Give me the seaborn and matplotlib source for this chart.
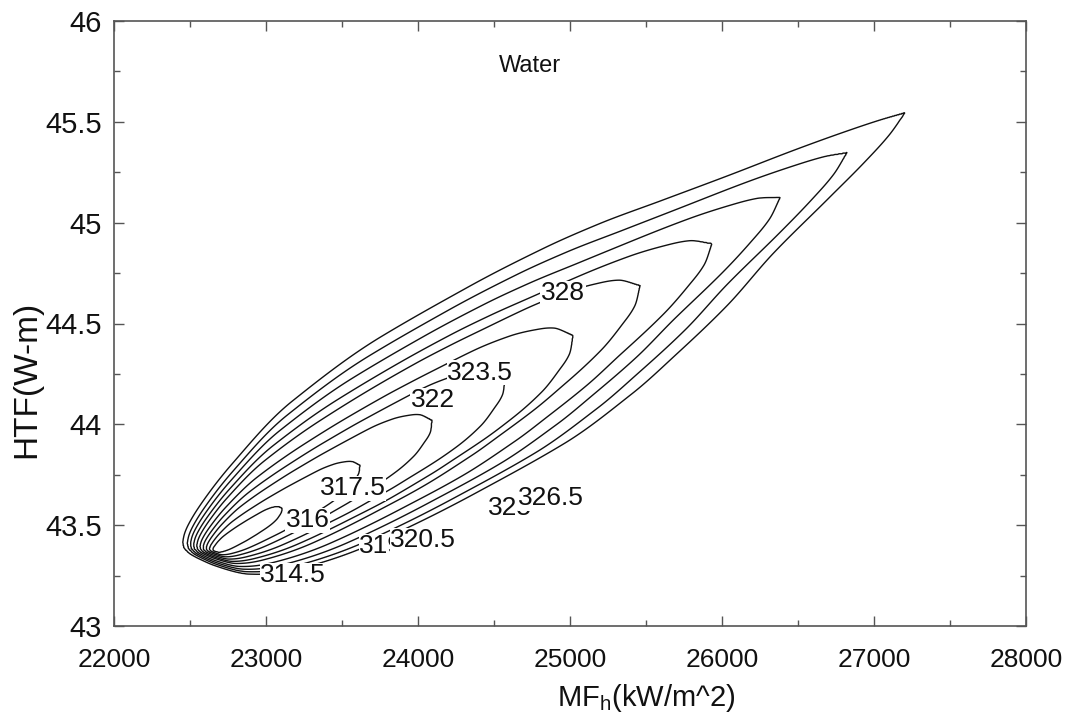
import numpy as np
import matplotlib
matplotlib.use("Agg")
import matplotlib.pyplot as plt
import seaborn as sns

# ---------------- data ----------------
# contour levels, innermost hairpin -> outermost hairpin
levels = [314.5, 316.0, 317.5, 319.0, 320.5, 322.0, 323.5, 325.0, 326.5, 328.0]
# tip (upper-right end) of each hairpin contour
tip_mf = [23105, 23618, 24092, 24572, 25020, 25461, 25934, 26382, 26822, 27204]
tip_htf = [43.584, 43.797, 44.020, 44.228, 44.441, 44.688, 44.896, 45.124, 45.347, 45.545]
# apex (lower-left convergence point) of each hairpin contour
apex_mf = [22651, 22630, 22610, 22590, 22570, 22550, 22530, 22510, 22490, 22461]
apex_htf = [43.376, 43.377, 43.378, 43.379, 43.380, 43.381, 43.382, 43.383, 43.384, 43.386]
# hairpin cross-section profile (half width / length along the hairpin axis)
prof_t = [0.0, 0.002, 0.005, 0.01, 0.02, 0.05, 0.1, 0.2, 0.33, 0.45, 0.55, 0.62, 0.7, 0.78, 0.87, 0.93, 0.97, 1.0]
upper_blunt = [0.0, 0.006, 0.010, 0.015, 0.022, 0.037, 0.056, 0.080, 0.092, 0.097, 0.098, 0.097, 0.095, 0.092, 0.080, 0.062, 0.042, 0.0]
lower_blunt = [0.0, 0.008, 0.013, 0.020, 0.032, 0.060, 0.080, 0.100, 0.110, 0.115, 0.115, 0.113, 0.110, 0.103, 0.085, 0.060, 0.038, 0.0]
upper_sharp = [0.0, 0.006, 0.010, 0.015, 0.022, 0.037, 0.056, 0.083, 0.094, 0.091, 0.084, 0.075, 0.060, 0.045, 0.029, 0.017, 0.008, 0.0]
lower_sharp = [0.0, 0.008, 0.014, 0.022, 0.036, 0.066, 0.090, 0.112, 0.123, 0.127, 0.118, 0.105, 0.087, 0.062, 0.040, 0.025, 0.013, 0.0]
sharpness = [0.0, 0.0, 0.0, 0.0, 0.15, 0.35, 0.55, 0.75, 0.9, 1.0]

# contour labels as printed on the chart
label_text = ["328", "323.5", "322", "317.5", "316", "314.5", "319", "320.5", "325", "326.5"]
label_mf = [24954, 24408, 24099, 23572, 23276, 23178, 23757, 24033, 24605, 24875]
label_htf = [44.649, 44.257, 44.119, 43.683, 43.525, 43.252, 43.396, 43.426, 43.584, 43.634]

xticks = [22000, 23000, 24000, 25000, 26000, 27000, 28000]
yticks = [43, 43.5, 44, 44.5, 45, 45.5, 46]


def pchip(xk, yk, x):
    xk = np.asarray(xk, float)
    yk = np.asarray(yk, float)
    h = np.diff(xk)
    delta = np.diff(yk) / h
    n = len(xk)
    d = np.zeros(n)
    for i in range(1, n - 1):
        if delta[i - 1] * delta[i] > 0:
            w1 = 2 * h[i] + h[i - 1]
            w2 = h[i] + 2 * h[i - 1]
            d[i] = (w1 + w2) / (w1 / delta[i - 1] + w2 / delta[i])
    d[0] = delta[0]
    d[-1] = delta[-1]
    xc = np.clip(x, xk[0], xk[-1])
    i = np.clip(np.searchsorted(xk, xc) - 1, 0, n - 2)
    hh = h[i]
    s = (xc - xk[i]) / hh
    h00 = 2 * s**3 - 3 * s**2 + 1
    h10 = s**3 - 2 * s**2 + s
    h01 = -2 * s**3 + 3 * s**2
    h11 = s**3 - s**2
    return h00 * yk[i] + h10 * hh * d[i] + h01 * yk[i + 1] + h11 * hh * d[i + 1]


# ---------------- style ----------------
sns.set_theme(style="ticks")
plt.rcParams["font.family"] = ["Liberation Sans", "DejaVu Sans"]
plt.rcParams["mathtext.fontset"] = "custom"
plt.rcParams["mathtext.rm"] = "Liberation Sans"

W, H = 1072, 723
fig = plt.figure(figsize=(W / 100, H / 100), dpi=100)
ax_left, ax_right, ax_top, ax_bot = 114, 1026, 21, 626
ax = fig.add_axes([ax_left / W, (H - ax_bot) / H, (ax_right - ax_left) / W, (ax_bot - ax_top) / H])
ax.set_xlim(xticks[0], xticks[-1])
ax.set_ylim(yticks[0], yticks[-1])

# isotropic (screen) scale factors for building the hairpin geometry
px_mf = (ax_right - ax_left) / (xticks[-1] - xticks[0])
px_htf = (ax_bot - ax_top) / (yticks[-1] - yticks[0])

mf = np.linspace(xticks[0], xticks[-1], 1801)
htf = np.linspace(yticks[0], yticks[-1], 901)
MF, HTF = np.meshgrid(mf, htf)
P = (MF - xticks[0]) * px_mf
Q = (HTF - yticks[0]) * px_htf

step = levels[1] - levels[0]
Z = np.full(MF.shape, levels[0] - step / 2)
eps = 0.05
for k in range(len(levels)):
    a0 = (apex_mf[k] - xticks[0]) * px_mf
    b0 = (apex_htf[k] - yticks[0]) * px_htf
    a1 = (tip_mf[k] - xticks[0]) * px_mf
    b1 = (tip_htf[k] - yticks[0]) * px_htf
    D = np.hypot(a1 - a0, b1 - b0)
    ex, ey = (a1 - a0) / D, (b1 - b0) / D
    u = (P - a0) * ex + (Q - b0) * ey
    v = -(P - a0) * ey + (Q - b0) * ex
    t = u / D
    s = sharpness[k]
    up = (1 - s) * pchip(prof_t, upper_blunt, t) + s * pchip(prof_t, upper_sharp, t)
    lo = (1 - s) * pchip(prof_t, lower_blunt, t) + s * pchip(prof_t, lower_sharp, t)
    half = np.where(v >= 0, up, lo) * D
    g = np.abs(v) / np.maximum(half, 1e-9)
    g = np.where((t > 0) & (t < 1), g, 1e6)
    lg = np.log(np.maximum(g, 1e-6))
    Z += step * np.clip(0.5 + lg / (2 * eps), 0, 1)

ax.contour(MF, HTF, Z, levels=levels, colors="#111111", linewidths=1.0)

for txt, x, y in zip(label_text, label_mf, label_htf):
    ax.text(x, y, txt, fontsize=19, ha="center", va="center", color="#111111",
            bbox=dict(facecolor="white", edgecolor="none", pad=0.3), zorder=5)

ax.text(24737, 45.777, "Water", fontsize=17, ha="center", va="center", color="#111111")

ax.set_xticks(xticks)
ax.set_yticks(yticks)
ax.set_xticks(np.arange(22500, 28000, 1000), minor=True)
ax.set_yticks(np.arange(43.25, 46, 0.5), minor=True)
ax.set_xticklabels([str(v) for v in xticks])
ax.set_yticklabels([f"{v:g}" for v in yticks])
ax.tick_params(which="both", direction="in", top=True, right=True, color="#555555", width=1.0)
ax.tick_params(which="major", length=7)
ax.tick_params(which="minor", length=4)
ax.tick_params(axis="x", labelsize=19, pad=16, labelcolor="#111111")
ax.tick_params(axis="y", labelsize=21, pad=9, labelcolor="#111111")
for sp in ax.spines.values():
    sp.set_color("#555555")
    sp.set_linewidth(1.2)

ax.set_xlabel("MF$_{\\mathrm{h}}$(kW/m^2)", fontsize=21, color="#111111")
ax.set_ylabel("HTF(W-m)", fontsize=24, color="#111111")
ax.xaxis.set_label_coords(0.584, -0.093)
ax.yaxis.set_label_coords(-0.079, 0.407)
ax.grid(False)

fig.savefig("out.png", dpi=100)
